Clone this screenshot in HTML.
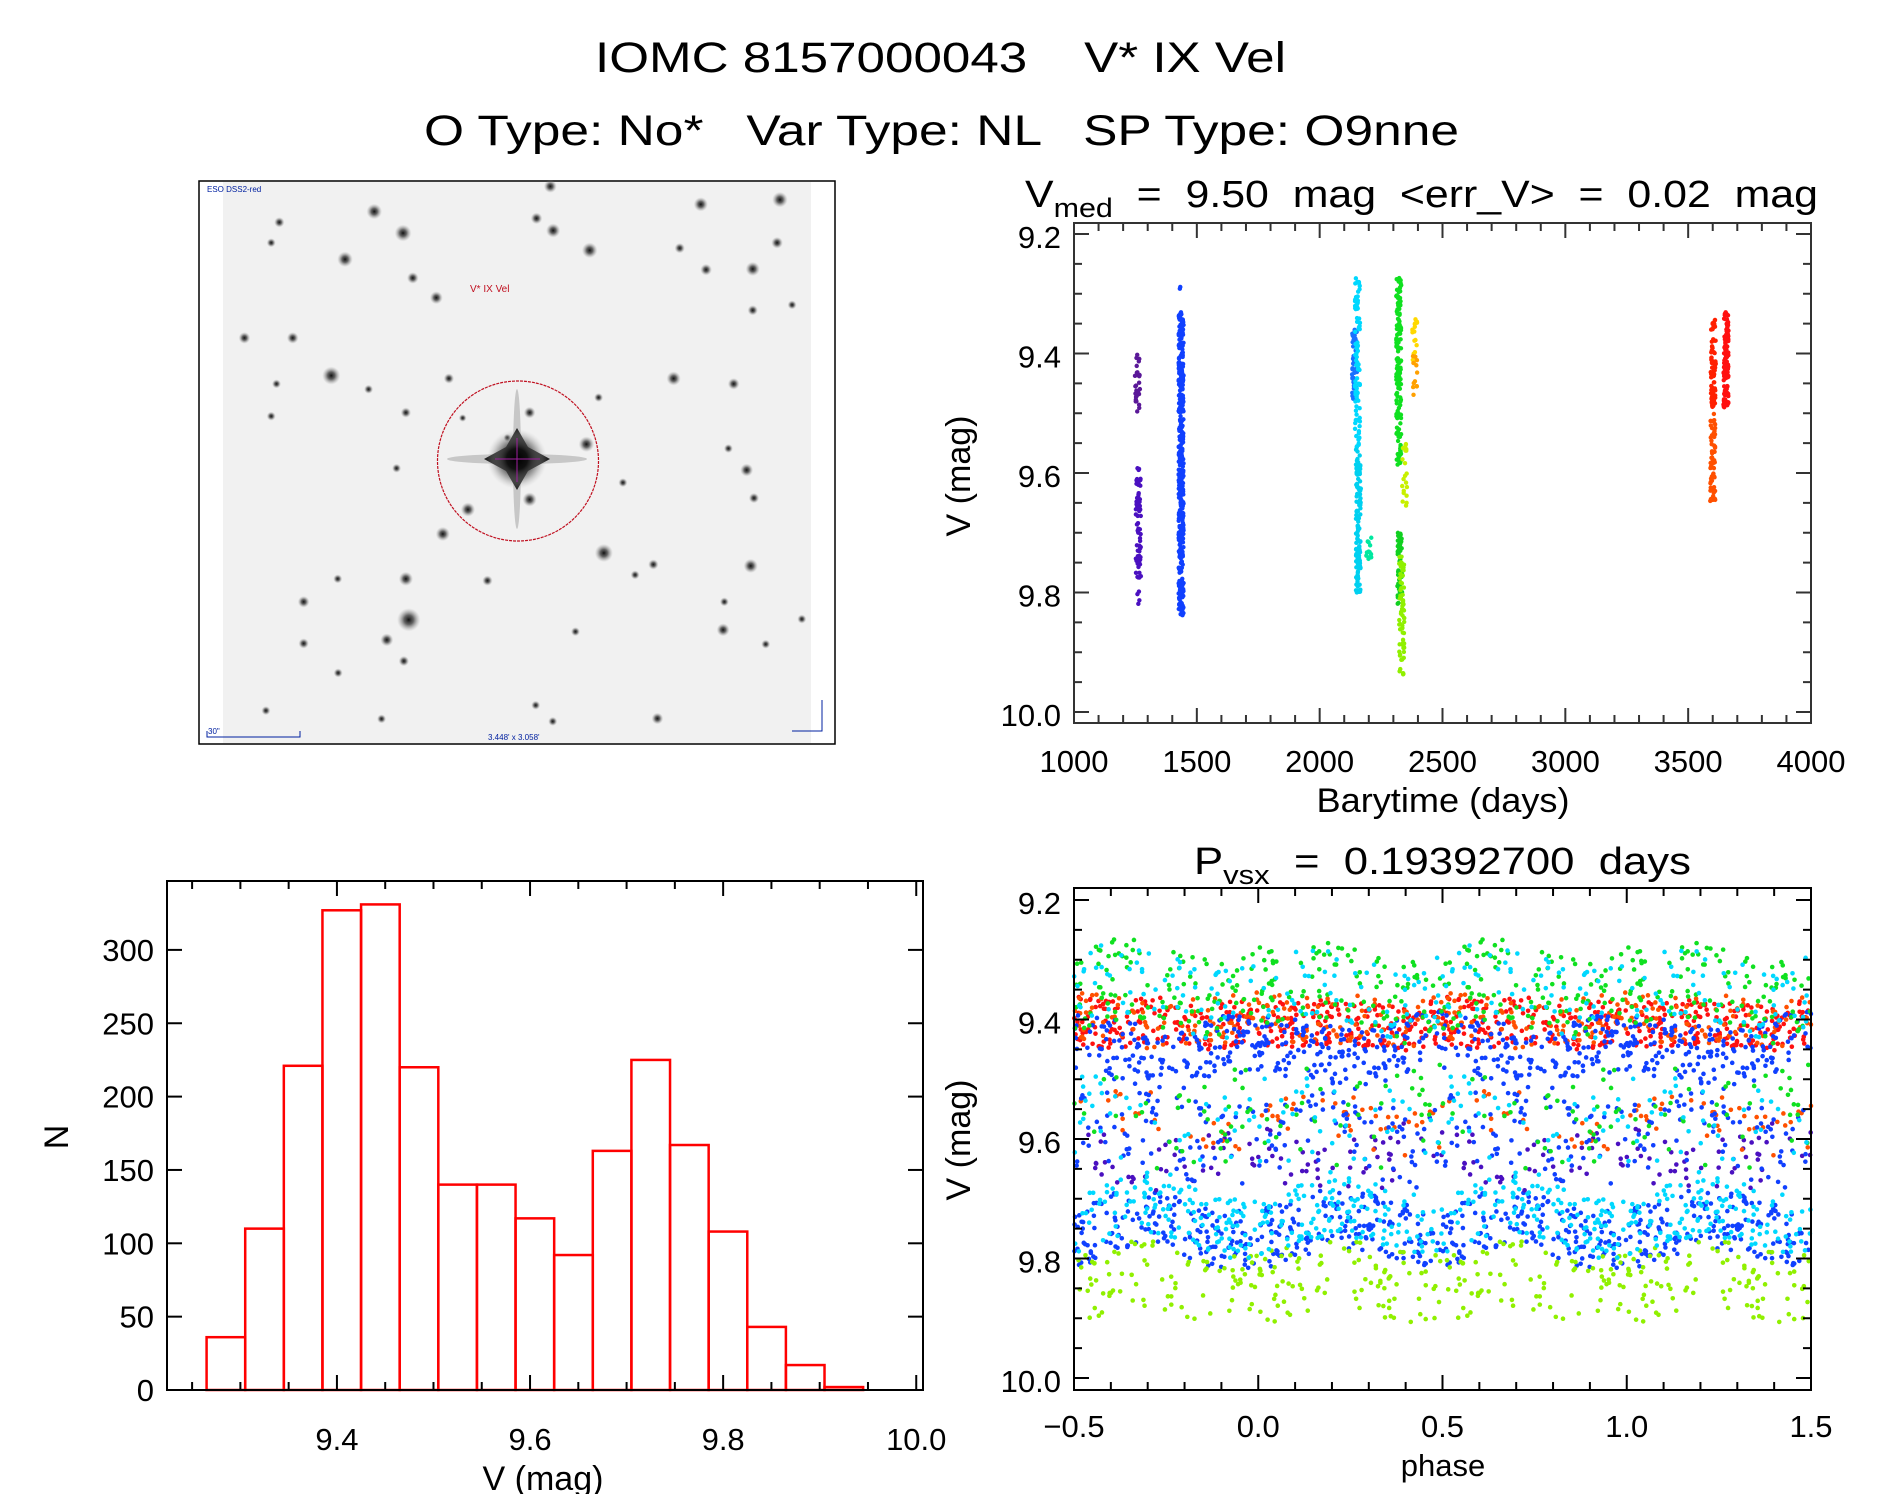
<!DOCTYPE html>
<html><head><meta charset="utf-8"><style>
html,body{margin:0;padding:0;background:#fff;}
svg{display:block;font-family:"Liberation Sans",sans-serif;}
text{white-space:pre;}
</style></head><body>
<svg id="root" width="1889" height="1494" viewBox="0 0 1889 1494" xmlns="http://www.w3.org/2000/svg" xml:space="preserve">
<defs>
<radialGradient id="starg"><stop offset="0" stop-color="#111" stop-opacity="1"/><stop offset="0.4" stop-color="#333" stop-opacity="0.75"/><stop offset="1" stop-color="#999" stop-opacity="0"/></radialGradient>
<radialGradient id="bigg"><stop offset="0" stop-color="#000"/><stop offset="0.35" stop-color="#111"/><stop offset="0.7" stop-color="#666" stop-opacity="0.5"/><stop offset="1" stop-color="#bbb" stop-opacity="0"/></radialGradient>
</defs>
<g font-size="43" fill="#000">
<text x="595" y="72" textLength="691" lengthAdjust="spacingAndGlyphs">IOMC 8157000043    V* IX Vel</text>
<text x="424" y="145" textLength="1035" lengthAdjust="spacingAndGlyphs">O Type: No*   Var Type: NL   SP Type: O9nne</text>
</g>

<g id="sky">
<rect x="199" y="181" width="636" height="563" fill="#fff" stroke="#000" stroke-width="1.5"/>
<rect x="223" y="182" width="588" height="561" fill="#f1f1f1"/>
</g>

<g id="lc"></g>
<g id="hist"></g>
<g id="ph"></g>
</svg>
<script>
// ---------- light curve data ----------
const seasonTimes = [1258,1262,1434,1436,2142,2154,2158,2200,2322,2326,2334,2345,2387,2390,3600,3602,3654];
const seasonMagMin = [9.39,9.59,9.28,9.33,9.36,9.27,9.56,9.70,9.27,9.70,9.74,9.55,9.33,9.40,9.50,9.34,9.33];
const seasonMagMax = [9.50,9.82,9.30,9.84,9.48,9.56,9.80,9.75,9.59,9.82,9.94,9.66,9.42,9.47,9.65,9.49,9.49];
const seasonCounts = [30,70,2,420,60,90,120,12,150,60,70,20,18,12,60,80,130];
const seasonColors = ['#5a1898','#4a10c0','#1040ff','#1040ff','#1a70ff','#00d8ff','#00d0f0','#00e8a0','#10e020','#10d020','#90f000','#c8f000','#ffd800','#ffa000','#ff5000','#ff2000','#ff1010'];
// ---------- histogram data ----------
const binStart = 9.265, binWidth = 0.04;
const histCounts = [36,110,221,327,331,220,140,140,117,92,163,225,167,108,43,17,2];
const histXTicks = ['9.4','9.6','9.8','10.0'];
const histYTicks = ['0','50','100','150','200','250','300'];
// ---------- phase plot data (band centres at phase 0,0.1..0.9) ----------
const bandColors = ['#ff1010','#ff5000','#1040ff','#1040ff','#10e020','#90f000','#00d8ff','#00d8ff','#4a10c0','#ff5000','#1040ff','#10e020','#00d8ff'];
const bandCentres = [
 [9.41,9.41,9.40,9.41,9.42,9.40,9.41,9.40,9.41,9.41],
 [9.39,9.40,9.40,9.40,9.41,9.39,9.40,9.41,9.40,9.40],
 [9.44,9.45,9.46,9.47,9.44,9.43,9.45,9.46,9.47,9.44],
 [9.77,9.75,9.73,9.74,9.76,9.77,9.74,9.73,9.75,9.77],
 [9.34,9.33,9.34,9.36,9.37,9.35,9.33,9.34,9.36,9.37],
 [9.85,9.84,9.82,9.83,9.85,9.85,9.83,9.82,9.84,9.85],
 [9.75,9.73,9.71,9.72,9.74,9.75,9.72,9.71,9.72,9.75],
 [9.34,9.33,9.34,9.36,9.38,9.35,9.33,9.34,9.36,9.38],
 [9.62,9.63,9.65,9.64,9.62,9.60,9.63,9.66,9.64,9.62],
 [9.58,9.56,9.55,9.58,9.60,9.58,9.56,9.55,9.58,9.60],
 [9.60,9.58,9.57,9.60,9.62,9.60,9.58,9.57,9.60,9.62],
 [9.56,9.55,9.57,9.58,9.56,9.55,9.57,9.58,9.56,9.56],
 [9.58,9.56,9.58,9.60,9.58,9.56,9.58,9.60,9.58,9.58]];
const bandSpread = [0.04,0.04,0.05,0.05,0.07,0.06,0.05,0.06,0.05,0.04,0.07,0.08,0.08];
const bandCounts = [300,160,300,300,200,170,240,120,80,60,140,70,70];
const phaseXTicks = ['\u22120.5','0.0','0.5','1.0','1.5'];
const magTicks = ['9.2','9.4','9.6','9.8','10.0'];
const lcXTicks = ['1000','1500','2000','2500','3000','3500','4000'];
// ---------- sky image stars (zoom coords) ----------
const starX=[432,503,360,198,178,527,585,866,832,873,963,1237,1432,1425,1185,1250,1365,1365,1462,112,231,326,191,418,616,510,178,955,815,815,663,601,487,998,1170,1318,1350,1368,1305,1360,1120,1075,510,711,342,517,258,463,505,258,343,1292,1295,1397,1486,928,1130,872,450,165,830,1045,985,650,760];
const starY=[85,145,218,115,172,270,325,15,104,138,193,65,52,172,187,247,245,360,345,437,437,542,565,580,550,645,655,733,645,887,915,983,800,1036,550,565,805,883,745,1072,1068,1097,1108,1113,1108,1222,1172,1278,1337,1288,1370,1250,1172,1290,1220,1255,1497,1505,1498,1475,1460,840,603,660,715];
const starS=[12,13,12,8,7,9,10,10,9,11,12,11,12,9,8,9,11,8,7,9,9,14,7,7,8,8,7,12,9,11,11,11,7,14,11,9,10,8,7,11,8,7,11,8,7,18,9,10,8,8,7,10,7,7,7,7,9,7,7,7,7,7,7,6,6];

const NS='http://www.w3.org/2000/svg';
function mk(tag,attrs,parent){const e=document.createElementNS(NS,tag);for(const k in attrs)e.setAttribute(k,attrs[k]);parent.appendChild(e);return e;}
let seed=12345;function rnd(){seed=(seed*1103515245+12345)%2147483648;return seed/2147483648;}

// sky
const sky=document.getElementById('sky');
for(let i=0;i<starX.length;i++){
 const s=mk('circle',{cx:199+starX[i]/2.465,cy:181+starY[i]/2.785,r:starS[i]*0.65,fill:'url(#starg)'},sky);
 
 
}
{
 const g=mk('g',{},sky);
 
 
 mk('ellipse',{cx:517,cy:459,rx:70,ry:5,fill:'#777',opacity:0.35},g);
 mk('ellipse',{cx:517,cy:459,rx:4,ry:70,fill:'#777',opacity:0.35},g);
 mk('path',{d:'M517 428 L528 447 L550 459 L528 471 L517 490 L506 471 L484 459 L506 447 Z',fill:'#222'},g);
 mk('circle',{cx:517,cy:459,r:30,fill:'url(#bigg)'},g);
 mk('line',{x1:495,y1:459,x2:540,y2:459,stroke:'#a020a0','stroke-width':1},g);
 mk('line',{x1:517,y1:438,x2:517,y2:482,stroke:'#a020a0','stroke-width':1},g);
 const c=mk('ellipse',{cx:518,cy:461,rx:80.5,ry:80,fill:'none',stroke:'#c01020','stroke-width':1.2,'stroke-dasharray':'3 1'},sky);
 
 
 const t=mk('text',{x:470,y:292,'font-size':10,fill:'#c01020'},sky);t.textContent='V* IX Vel';
 
 
 const t2=mk('text',{x:207,y:192,'font-size':8,fill:'#0020a0'},sky);t2.textContent='ESO DSS2-red';
 
 
 const t3=mk('text',{x:488,y:740,'font-size':8,fill:'#0020a0'},sky);t3.textContent='3.448\' x 3.058\'';
 
 
 mk('path',{d:'M207 731 L207 737 L300 737 L300 731',fill:'none',stroke:'#0020a0','stroke-width':1},sky);
 const t4=mk('text',{x:208,y:734,'font-size':8,fill:'#0020a0'},sky);t4.textContent='30"';
 
 
 mk('path',{d:'M822 700 L822 731 L792 731',fill:'none',stroke:'#0020a0','stroke-width':1},sky);
}

function axes(g,L,T,R,B,xTickVals,xMap,xMinor,yTickVals,yMap,yMinor,col){
 mk('rect',{x:L,y:T,width:R-L,height:B-T,fill:'none',stroke:col,'stroke-width':2},g);
 xTickVals.forEach(v=>{const x=xMap(v);mk('line',{x1:x,y1:B,x2:x,y2:B-15,stroke:col,'stroke-width':2},g);mk('line',{x1:x,y1:T,x2:x,y2:T+15,stroke:col,'stroke-width':2},g);});
 xMinor.forEach(v=>{const x=xMap(v);mk('line',{x1:x,y1:B,x2:x,y2:B-8,stroke:col,'stroke-width':2},g);mk('line',{x1:x,y1:T,x2:x,y2:T+8,stroke:col,'stroke-width':2},g);});
 yTickVals.forEach(v=>{const y=yMap(v);mk('line',{x1:L,y1:y,x2:L+15,y2:y,stroke:col,'stroke-width':2},g);mk('line',{x1:R,y1:y,x2:R-15,y2:y,stroke:col,'stroke-width':2},g);});
 yMinor.forEach(v=>{const y=yMap(v);mk('line',{x1:L,y1:y,x2:L+8,y2:y,stroke:col,'stroke-width':2},g);mk('line',{x1:R,y1:y,x2:R-8,y2:y,stroke:col,'stroke-width':2},g);});
}
function txt(g,x,y,s,size,anchor,name,extra){const t=mk('text',Object.assign({x:x,y:y,'font-size':size,'text-anchor':anchor||'start',fill:'#000'},extra||{}),g);t.textContent=s;return t;}
const magY=(T)=>m=>T+(m-9.2)*(478/0.8);
const magMinor=[];for(let m=9.25;m<10.0;m+=0.05){if(Math.abs((m*100)%20)>1)magMinor.push(m);}

// ---------- light curve ----------
{
 const g=document.getElementById('lc');
 const L=1074,R=1811,T=223,B=723; const xm=t=>L+(t-1000)*(R-L)/3000; const ym=magY(234);
 for(let i=0;i<seasonTimes.length;i++){
  for(let k=0;k<seasonCounts[i];k++){
   const m=seasonMagMin[i]+rnd()*(seasonMagMax[i]-seasonMagMin[i]);
   const d=mk('circle',{cx:xm(seasonTimes[i])+(rnd()-0.5)*5,cy:ym(m),r:2.2,fill:seasonColors[i]},g);
   
   
  }
 }
 const minx=[];for(let t=1100;t<4000;t+=100)if(t%500)minx.push(t);
 axes(g,L,T,R,B,lcXTicks.map(Number),xm,minx,magTicks.map(Number),ym,magMinor,'#333');
 lcXTicks.forEach(s=>txt(g,xm(+s),772,s,31,'middle','lc-x-tick-label'));
 magTicks.forEach(s=>txt(g,1061,ym(+s)+14,s,31,'end','lc-y-tick-label'));
 txt(g,1443,812,'Barytime (days)',34,'middle','lc-x-axis-title',{textLength:253,lengthAdjust:'spacingAndGlyphs'});
 txt(g,0,0,'V (mag)',34,'middle','lc-y-axis-title',{transform:'translate(970,476) rotate(-90)'});
 const t=txt(g,1025,207,'V',38,'start','lc-title');
 const s1=mk('tspan',{'font-size':27,dy:10},t);s1.textContent='med';
 const s2=mk('tspan',{dy:-10},t);s2.textContent='  =  9.50  mag  <err_V>  =  0.02  mag';
 t.setAttribute('textLength',793);t.setAttribute('lengthAdjust','spacingAndGlyphs');
}
// ---------- histogram ----------
{
 const g=document.getElementById('hist');
 const L=167,R=923,T=881,B=1390; const x0=9.224,x1=10.007;
 const xm=v=>L+(v-x0)*(R-L)/(x1-x0); const ym=n=>B-n*1.467;
 histCounts.forEach((c,i)=>{
  const a=xm(binStart+i*binWidth),b=xm(binStart+(i+1)*binWidth);
  const r=mk('rect',{x:a,y:ym(c),width:b-a,height:B-ym(c),fill:'none',stroke:'#f00','stroke-width':2.5},g);
  
  
 });
 const minx=[9.25,9.3,9.35,9.45,9.5,9.55,9.65,9.7,9.75,9.85,9.9,9.95];
 axes(g,L,T,R,B,histXTicks.map(Number),xm,minx,histYTicks.map(Number),ym,[],'#000');
 histXTicks.forEach(s=>txt(g,xm(+s),1450,s,31,'middle','hist-x-tick-label'));
 histYTicks.forEach(s=>txt(g,154,ym(+s)+11,s,31,'end','hist-y-tick-label'));
 txt(g,543,1490,'V (mag)',34,'middle','hist-x-axis-title');
 txt(g,0,0,'N',34,'middle','hist-y-axis-title',{transform:'translate(68,1137) rotate(-90)'});
}
// ---------- phase ----------
{
 const g=document.getElementById('ph');
 const L=1074,R=1811,T=888,B=1390; const xm=p=>L+(p+0.5)*(R-L)/2; const ym=magY(900);
 for(let b=0;b<bandColors.length;b++){
  for(let k=0;k<bandCounts[b];k++){
   const p=rnd(); const idx=Math.floor(p*10)%10, f=p*10-Math.floor(p*10);
   const c=bandCentres[b][idx]*(1-f)+bandCentres[b][(idx+1)%10]*f;
   const m=c+(rnd()-0.5)*2*bandSpread[b];
   [p-1,p,p+1].forEach(q=>{if(q>=-0.5&&q<=1.5){
    const d=mk('circle',{cx:xm(q),cy:ym(m),r:2.3,fill:bandColors[b]},g);
    
    
   }});
  }
 }
 const minx=[];for(let p=-0.4;p<1.5;p+=0.1){if(Math.abs(Math.round(p*10)%5)!==0)minx.push(p);}
 axes(g,L,T,R,B,phaseXTicks.map(s=>+s.replace('\u2212','-')),xm,minx,magTicks.map(Number),ym,magMinor,'#000');
 phaseXTicks.forEach(s=>txt(g,xm(+s.replace('\u2212','-')),1437,s,31,'middle','phase-x-tick-label'));
 magTicks.forEach(s=>txt(g,1061,ym(+s)+14,s,31,'end','phase-y-tick-label'));
 txt(g,1443,1476,'phase',31,'middle','phase-x-axis-title');
 txt(g,0,0,'V (mag)',34,'middle','phase-y-axis-title',{transform:'translate(970,1140) rotate(-90)'});
 const t=txt(g,1194,874,'P',38,'start','phase-title');
 const s1=mk('tspan',{'font-size':27,dy:10},t);s1.textContent='vsx';
 const s2=mk('tspan',{dy:-10},t);s2.textContent='  =  0.19392700  days';
 t.setAttribute('textLength',497);t.setAttribute('lengthAdjust','spacingAndGlyphs');
}
</script>
</body></html>
